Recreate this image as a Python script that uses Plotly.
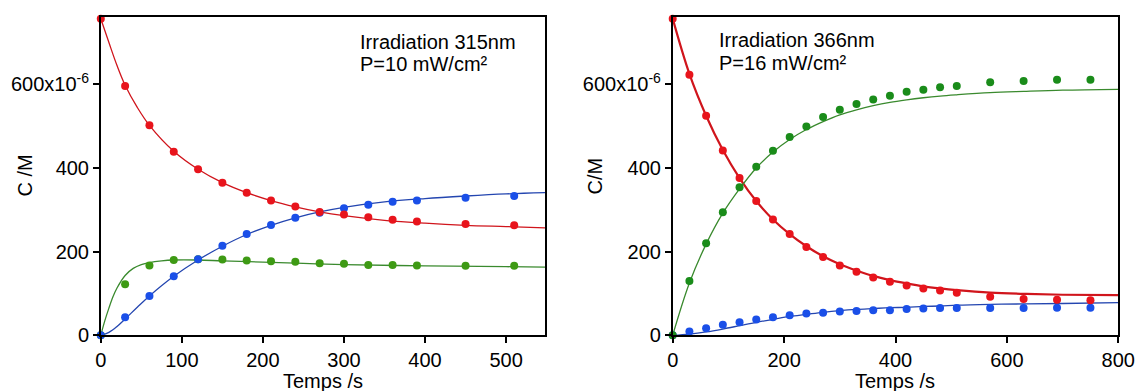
import plotly.graph_objects as go

# ---------------- Left panel: Irradiation 315 nm ----------------
t_left = [0, 30, 60, 90, 120, 150, 180, 210, 240, 270, 300, 330, 360, 390, 450, 510]
red_left = [757, 596, 502, 439, 397, 365, 341, 322, 308, 295, 289, 282, 276, 272, 266, 263]
blue_left = [0, 43, 94, 141, 182, 214, 242, 264, 281, 293, 304, 312, 319, 322, 329, 333]
green_left = [0, 122, 167, 180, 182, 181, 179, 177, 176, 172, 171, 168, 168, 167, 166, 166]

tc_left = [0, 10, 20, 30, 45, 60, 90, 120, 150, 180, 210, 240, 270, 300, 350, 400, 450, 500, 548]
red_fit_left = [757, 700, 645, 598, 545, 502, 440, 397, 365, 341, 322, 307, 295, 286, 275, 268, 263, 260, 257]
blue_fit_left = [0, 7, 21, 39, 67, 94, 141, 180, 213, 241, 263, 281, 295, 306, 319, 327, 333, 338, 341]
tcg_left = [0, 5, 10, 15, 20, 30, 40, 50, 60, 75, 90, 120, 150, 200, 250, 300, 400, 500, 548]
green_fit_left = [0, 35, 65, 92, 113, 143, 160, 169, 174, 178, 180, 180, 178, 175, 172, 169, 166, 164, 163]

# ---------------- Right panel: Irradiation 366 nm ----------------
t_right = [0, 30, 60, 90, 120, 150, 180, 210, 240, 270, 300, 330, 360, 390, 420, 450, 480, 510, 570, 630, 690, 750]
red_right = [757, 623, 525, 442, 376, 321, 277, 242, 211, 187, 167, 152, 138, 128, 119, 112, 107, 102, 92, 87, 85, 84]
green_right = [0, 130, 220, 294, 354, 403, 441, 474, 499, 522, 539, 553, 564, 573, 582, 587, 593, 596, 605, 608, 611, 611]
blue_right = [0, 9, 17, 25, 31, 38, 43, 48, 52, 54, 57, 58, 60, 60, 63, 64, 65, 65, 65, 65, 66, 66]

tc_right = [0, 30, 60, 90, 120, 150, 180, 210, 240, 270, 300, 330, 360, 390, 420, 450, 480, 510, 570, 630, 700, 800]
red_fit_right = [757, 625, 525, 443, 376, 321, 277, 242, 213, 189, 170, 155, 142, 132, 124, 117, 112, 108, 102, 99, 97, 96]
green_fit_right = [0, 125, 218, 292, 350, 400, 438, 468, 492, 511, 527, 539, 549, 557, 563, 568, 572, 575, 580, 583, 586, 588]
blue_fit_right = [0, 3, 8, 15, 23, 31, 38, 45, 50, 55, 59, 62, 64, 66, 67, 69, 70, 72, 74, 75, 76, 78]

y_ticks = [0, 200, 400, 600]
y_ticktext = ["0", "200", "400", "600x10<sup>-6</sup>"]
x_ticks_left = [0, 100, 200, 300, 400, 500]
x_ticks_right = [0, 200, 400, 600, 800]

RED_PT, RED_LN = "#e8141c", "#d0151c"
BLUE_PT, BLUE_LN = "#1a4fe8", "#2446b0"
GREEN_PT_L, GREEN_PT_R, GREEN_LN = "#3e9a14", "#1a8c1a", "#3a8a2e"

fig = go.Figure()

def add_curve(x, y, color, width, xa, ya):
    fig.add_trace(go.Scatter(x=x, y=y, mode="lines", line=dict(color=color, width=width, shape="spline"),
                             xaxis=xa, yaxis=ya, showlegend=False, hoverinfo="skip"))

def add_pts(x, y, color, xa, ya):
    fig.add_trace(go.Scatter(x=x, y=y, mode="markers", marker=dict(color=color, size=8),
                             xaxis=xa, yaxis=ya, showlegend=False, cliponaxis=False))

# left
add_curve(tc_left, red_fit_left, RED_LN, 1.3, "x", "y")
add_curve(tc_left, blue_fit_left, BLUE_LN, 1.3, "x", "y")
add_curve(tcg_left, green_fit_left, GREEN_LN, 1.3, "x", "y")
add_pts(t_left, green_left, GREEN_PT_L, "x", "y")
add_pts(t_left, blue_left, BLUE_PT, "x", "y")
add_pts(t_left, red_left, RED_PT, "x", "y")
# right
add_curve(tc_right, red_fit_right, RED_LN, 2.2, "x2", "y2")
add_curve(tc_right, green_fit_right, GREEN_LN, 1.3, "x2", "y2")
add_curve(tc_right, blue_fit_right, BLUE_LN, 1.3, "x2", "y2")
add_pts(t_right, blue_right, BLUE_PT, "x2", "y2")
add_pts(t_right, green_right, GREEN_PT_R, "x2", "y2")
add_pts(t_right, red_right, RED_PT, "x2", "y2")

W, H = 1137, 391
FONT = "Arial, Liberation Sans, sans-serif"
ydom = [(391 - 335.3) / H, (391 - 17) / H]

axis_common = dict(showgrid=False, zeroline=False, showline=True, linecolor="black", linewidth=1.6,
                   mirror=True, ticks="outside", ticklen=6, tickwidth=1.5, tickcolor="black",
                   tickfont=dict(family=FONT, size=20, color="black"), automargin=False)

fig.update_layout(
    width=W, height=H,
    margin=dict(l=0, r=0, t=0, b=0),
    paper_bgcolor="white", plot_bgcolor="white",
    font=dict(family=FONT, color="black"),
    xaxis=dict(domain=[100.8 / W, 545 / W], range=[0, 548], tickvals=x_ticks_left, anchor="y", **axis_common),
    yaxis=dict(domain=ydom, range=[0, 761], tickvals=y_ticks, ticktext=y_ticktext, anchor="x", **axis_common),
    xaxis2=dict(domain=[672.7 / W, 1118.3 / W], range=[0, 800], tickvals=x_ticks_right, anchor="y2", **axis_common),
    yaxis2=dict(domain=ydom, range=[0, 761], tickvals=y_ticks, ticktext=y_ticktext, anchor="x2", **axis_common),
)

ann_font = dict(family=FONT, size=20, color="black")
anns = [
    dict(text="Irradiation 315nm", x=358 / W, y=1 - 41.5 / H, xanchor="left", yanchor="middle"),
    dict(text="P=10 mW/cm²", x=358 / W, y=1 - 64 / H, xanchor="left", yanchor="middle"),
    dict(text="Irradiation 366nm", x=717 / W, y=1 - 40.5 / H, xanchor="left", yanchor="middle"),
    dict(text="P=16 mW/cm²", x=717 / W, y=1 - 63 / H, xanchor="left", yanchor="middle"),
    dict(text="Temps /s", x=323 / W, y=1 - 381 / H, xanchor="center", yanchor="middle"),
    dict(text="Temps /s", x=895.5 / W, y=1 - 381 / H, xanchor="center", yanchor="middle"),
    dict(text="C /M", x=24.5 / W, y=1 - 176 / H, xanchor="center", yanchor="middle", textangle=-90),
    dict(text="C/M", x=594.5 / W, y=1 - 176 / H, xanchor="center", yanchor="middle", textangle=-90),
]
for a in anns:
    fig.add_annotation(xref="paper", yref="paper", showarrow=False, font=ann_font, **a)

fig.write_html("out.html", config={"displayModeBar": False},
               post_script="document.body.style.margin='0';document.body.style.overflow='hidden';")
